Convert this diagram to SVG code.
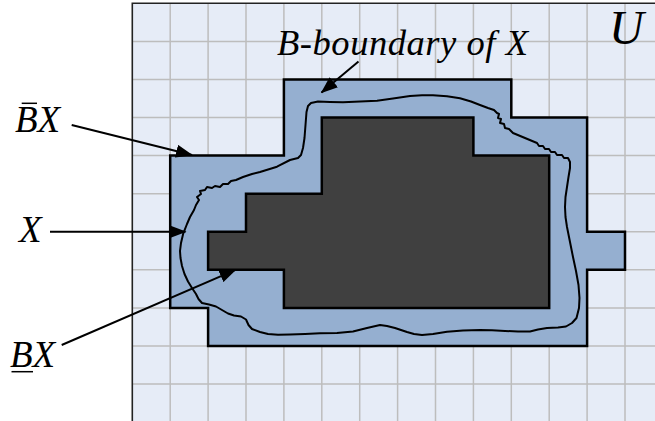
<svg xmlns="http://www.w3.org/2000/svg" width="655" height="421" viewBox="0 0 655 421">
<style>
.grid line{stroke:#BDBDBD;stroke-width:1.5}
.conn{stroke:#000;stroke-width:2;fill:none;marker-end:url(#ah)}
.shape{stroke:#000;stroke-width:2.5;stroke-linejoin:miter}
.deco{stroke:#000;stroke-width:1.5}
</style>
<defs>
<marker id="ah" markerUnits="userSpaceOnUse" viewBox="0 0 17 13" markerWidth="17" markerHeight="13" refX="16" refY="6.5" orient="auto">
<path d="M0,0 L17,6.5 L0,13 z" fill="#000"/>
</marker>
</defs>
<rect x="0" y="0" width="655" height="421" fill="#fff"/>
<g id="universe" class="grid">
<rect x="132.3" y="3.3" width="523" height="418" fill="#E6ECF7" stroke="none"/>
<line x1="170.2" y1="3" x2="170.2" y2="421"/>
<line x1="208.1" y1="3" x2="208.1" y2="421"/>
<line x1="246" y1="3" x2="246" y2="421"/>
<line x1="283.9" y1="3" x2="283.9" y2="421"/>
<line x1="321.8" y1="3" x2="321.8" y2="421"/>
<line x1="359.7" y1="3" x2="359.7" y2="421"/>
<line x1="397.6" y1="3" x2="397.6" y2="421"/>
<line x1="435.5" y1="3" x2="435.5" y2="421"/>
<line x1="473.4" y1="3" x2="473.4" y2="421"/>
<line x1="511.3" y1="3" x2="511.3" y2="421"/>
<line x1="549.2" y1="3" x2="549.2" y2="421"/>
<line x1="587.1" y1="3" x2="587.1" y2="421"/>
<line x1="625" y1="3" x2="625" y2="421"/>
<line x1="132" y1="41.4" x2="655" y2="41.4"/>
<line x1="132" y1="79.4" x2="655" y2="79.4"/>
<line x1="132" y1="117.5" x2="655" y2="117.5"/>
<line x1="132" y1="155.6" x2="655" y2="155.6"/>
<line x1="132" y1="193.7" x2="655" y2="193.7"/>
<line x1="132" y1="231.7" x2="655" y2="231.7"/>
<line x1="132" y1="269.8" x2="655" y2="269.8"/>
<line x1="132" y1="307.9" x2="655" y2="307.9"/>
<line x1="132" y1="345.9" x2="655" y2="345.9"/>
<line x1="132" y1="384" x2="655" y2="384"/>
<path d="M132.3,421 V3.3 H655" fill="none" stroke="#222" stroke-width="1.6"/>
</g>
<g id="upper-approximation">
<polygon class="shape" fill="#95AFD0" points="283.9,79.4 511.3,79.4 511.3,117.5 587.1,117.5 587.1,231.7 625,231.7 625,269.8 587.1,269.8 587.1,345.9 208.1,345.9 208.1,307.9 170.2,307.9 170.2,155.6 283.9,155.6"/>
</g>
<g id="lower-approximation">
<polygon class="shape" fill="#404040" points="321.8,117.5 473.4,117.5 473.4,155.6 549.2,155.6 549.2,307.9 283.9,307.9 283.9,269.8 208.1,269.8 208.1,231.7 246,231.7 246,193.7 321.8,193.7"/>
</g>
<g id="set-X">
<path fill="none" stroke="#000" stroke-width="2" stroke-linejoin="round" d="M183.3,233.3 L187,224 190,217 194,210 196,205 199,200 197,197 201,194 200,191 205,190 207,187 212,188 215,186 220,187 223,184 228,184 231,181 236,180 243,177 252,174 260,172 277,166.7 290,160 298,158 301,155 303,148 304.5,138 305.5,125 306.5,112 308,106 311,103 318,101.5 330,102 343,102.3 360,101.6 377,100.7 393,98.5 410,96 422,95.3 433,95.3 447,96.3 460,98.3 471,101.5 480,105 488,108 494,110 497,113 499,114 498,118 501,119 500,123 504,124 505,128 509,129 513,133 525,138 537,143 539,146 543,146 545,149 549,149 551,152 555,152 557,155 562,155 564,158 568,158 570,162 570,168 568.5,177 567,187 565.5,197 565,207 565.5,217 567,227 570,242 573,257 576,271 578.5,285 579.5,298 579,308 576.5,318 572,323 566,326.5 558,327.5 547,328 538,329.5 530,331.5 518,331.5 505,331 492,330.3 480,330 463,330.5 447,331.7 433,334 422,335 414,334 407,332 395,328 387,326 380,325 367,328 353,331.5 337,333 320,333.3 305,334 290,334.5 278,334.8 268,334 260,332 252,329 248.5,325 246,319.5 241,316.5 234,315.5 228,313.5 222,310 216,306.5 209,304.5 202,303 198.5,299 196,294 192,288 188,281.5 184.5,274 182,266 180.5,258 180,251 181,243 183.3,233.3 Z"/>
</g>
<g id="connectors">
<line class="conn" x1="71.7" y1="125" x2="192" y2="155"/>
<line class="conn" x1="50" y1="231.7" x2="185.5" y2="231.7"/>
<line class="conn" x1="61.7" y1="345" x2="235.5" y2="269.8"/>
<line class="conn" x1="358.5" y1="61.5" x2="321.5" y2="92.5"/>
</g>
<g id="labels" font-family="Liberation Serif, Times New Roman, serif" font-style="italic" fill="#000">
<text x="277" y="55" font-size="36.5" textLength="251">B-boundary of X</text>
<text x="609" y="43.5" font-size="48">U</text>
<text x="15" y="131.7" font-size="37">BX</text>
<line class="deco" x1="21.7" y1="103.3" x2="37" y2="103.3"/>
<text x="19" y="242.3" font-size="37">X</text>
<text x="10" y="366.7" font-size="37">BX</text>
<line class="deco" x1="11.5" y1="371.7" x2="33" y2="371.7"/>
</g>
</svg>
